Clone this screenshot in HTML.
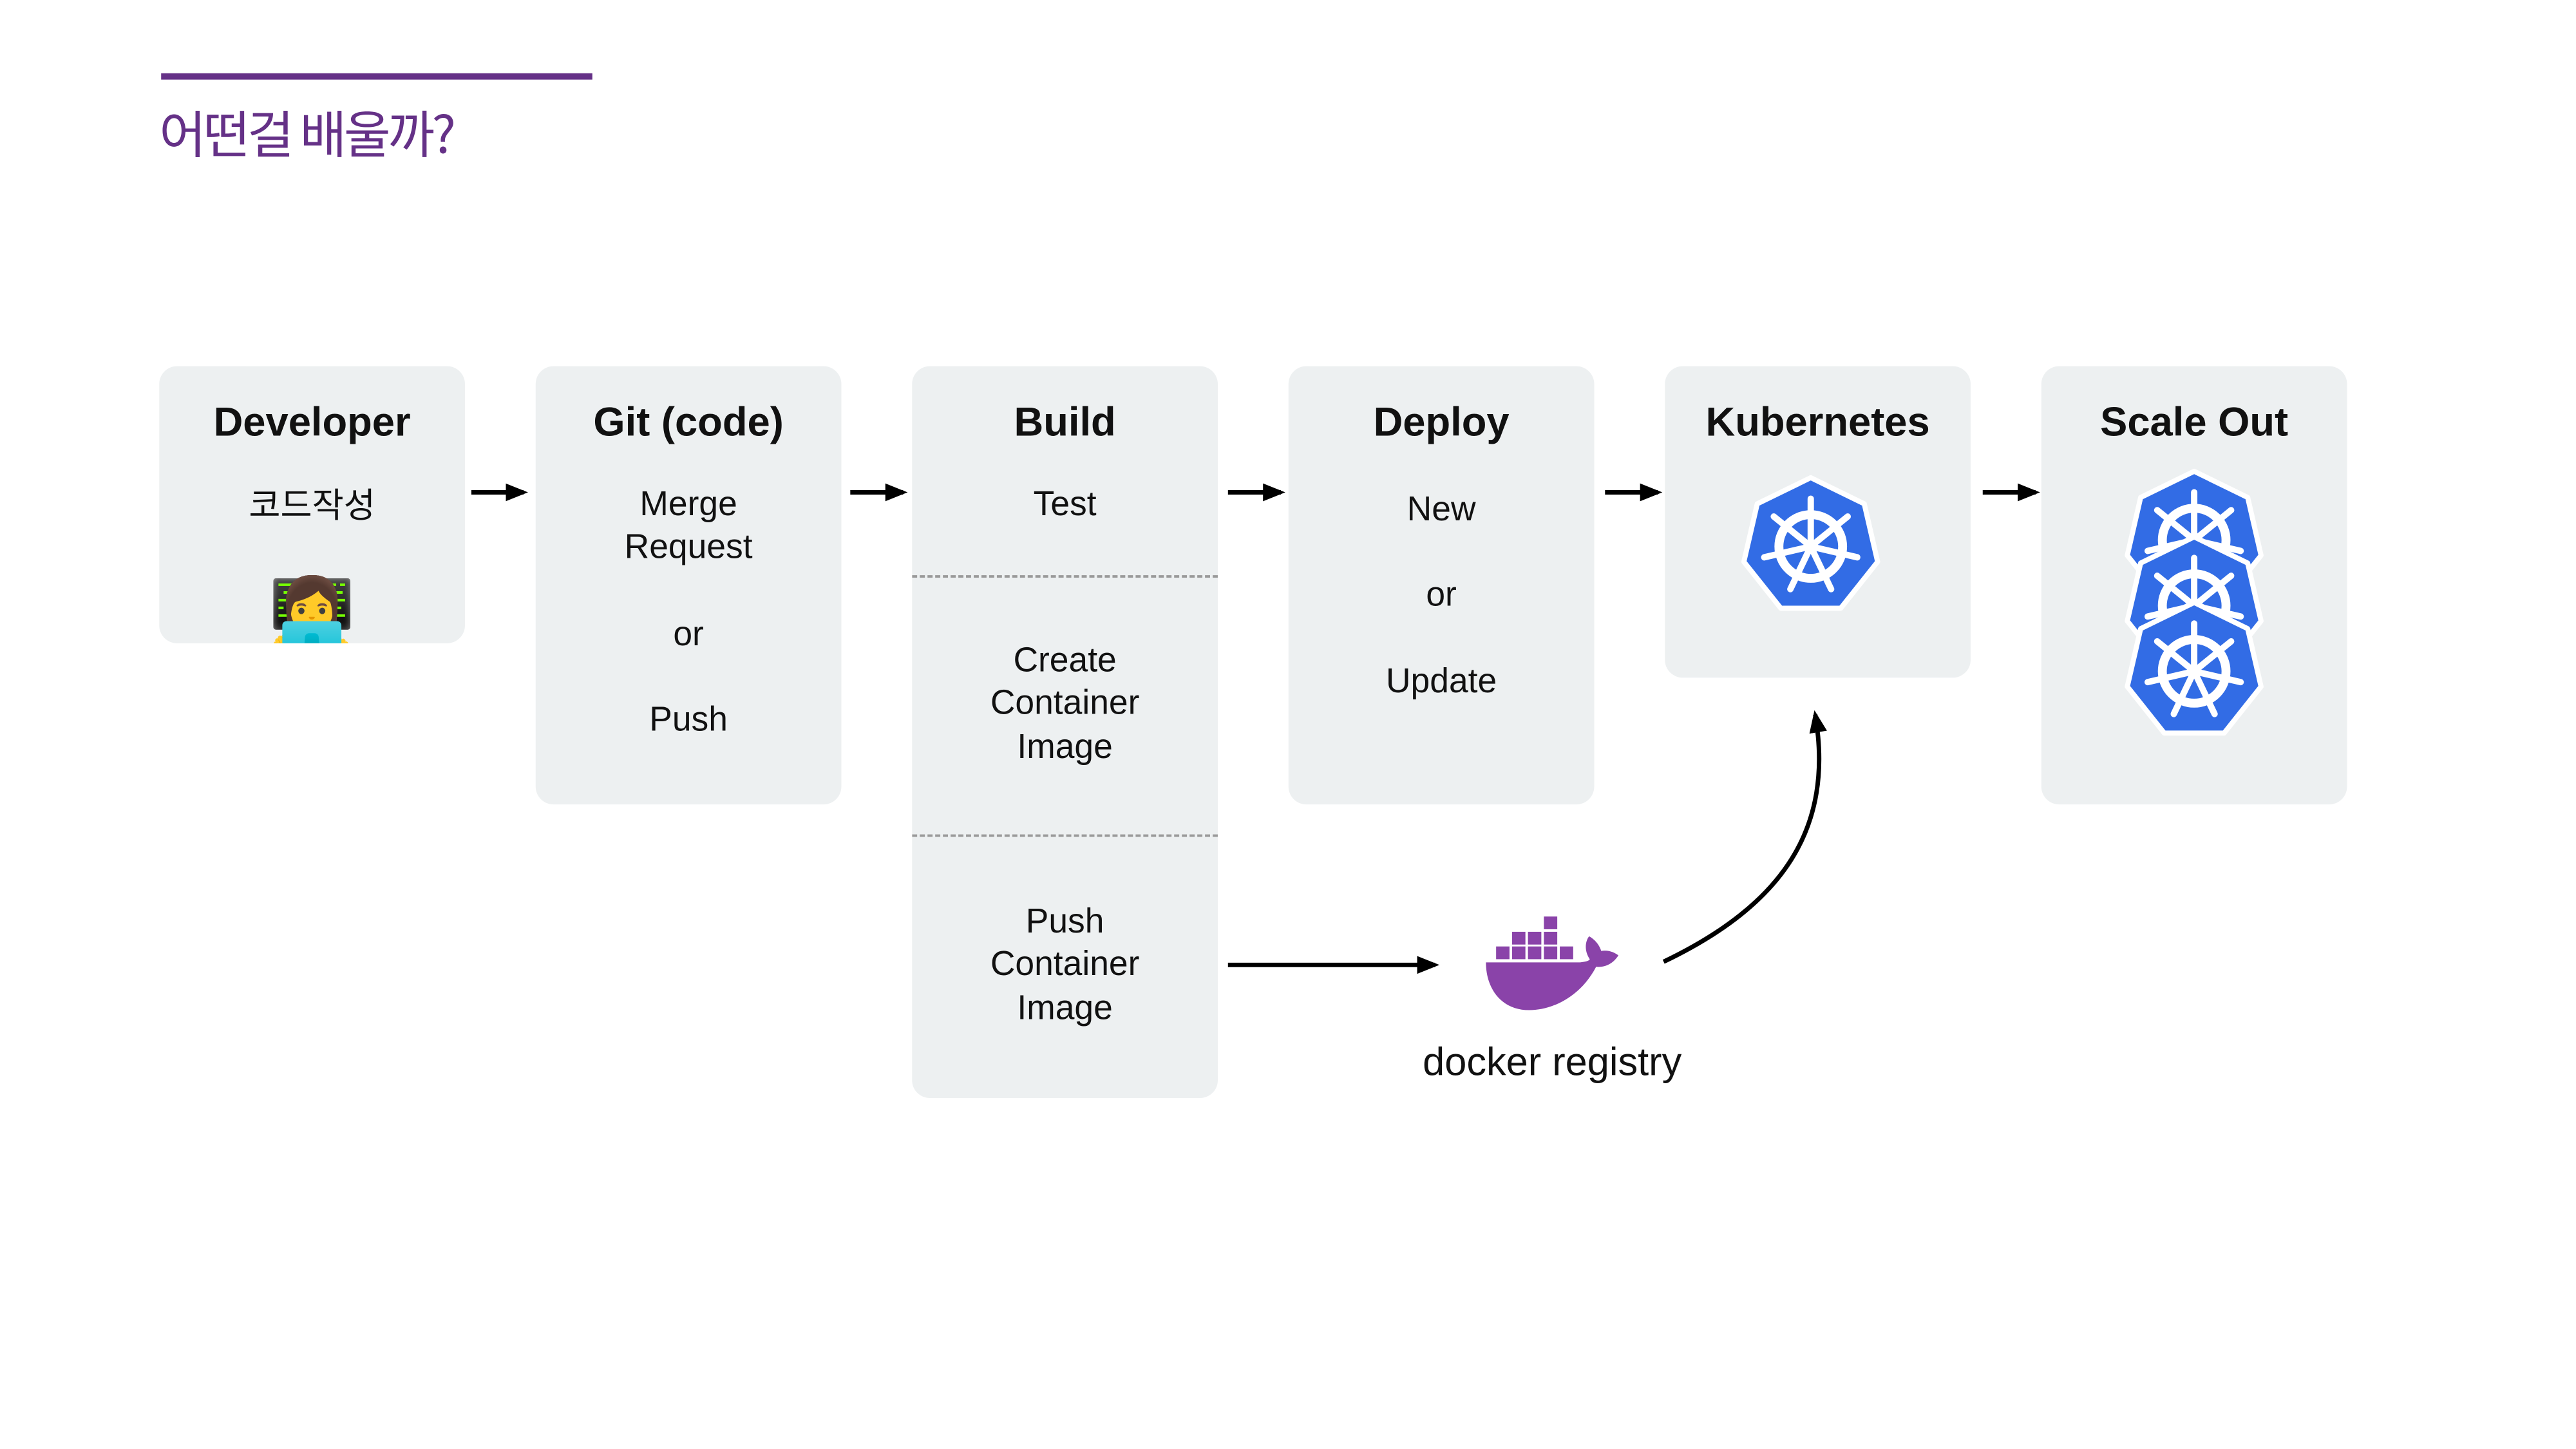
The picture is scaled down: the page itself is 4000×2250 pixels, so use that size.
<!DOCTYPE html>
<html><head><meta charset="utf-8"><style>
body{margin:0;width:4000px;height:2250px;background:#fff;position:relative;overflow:hidden;font-family:"Liberation Sans","Noto Sans CJK KR",sans-serif}
#w{position:absolute;left:0;top:0;width:4000px;height:2250px;transform:scale(0.989);transform-origin:0 0}
.bar{position:absolute;left:253px;top:115px;width:677px;height:10px;background:#653187}
.title{position:absolute;left:250px;top:154px;font-size:80px;color:#653187;font-family:"Noto Sans CJK KR",sans-serif;letter-spacing:-4.5px;line-height:104px}
.box{position:absolute;top:575px;width:480px;background:#edf0f1;border-radius:28px;overflow:hidden}
.t{position:absolute;left:0;width:100%;text-align:center;transform:translateY(-50%);color:#111;font-size:54px;line-height:68px}
.h{font-weight:bold;font-size:64px}
.dash{position:absolute;left:0;width:100%;border-top:4px dashed #999}
</style></head><body><div id="w">
<div class="bar"></div>
<div class="title">어떤걸 배울까?</div>

<div class="box" style="left:250px;height:435px">
<div class="t h" style="top:87px">Developer</div>
<div class="t" style="top:214px;font-family:'Noto Sans CJK KR',sans-serif">코드작성</div>
<div class="t" style="top:390px;font-size:110px;line-height:130px;font-family:'Noto Color Emoji',sans-serif">👩‍💻</div>
</div>
<div class="box" style="left:841px;height:688px">
<div class="t h" style="top:87px">Git (code)</div>
<div class="t" style="top:216px">Merge</div>
<div class="t" style="top:283px">Request</div>
<div class="t" style="top:420px">or</div>
<div class="t" style="top:554px">Push</div>
</div>
<div class="box" style="left:1432px;height:1149px">
<div class="t h" style="top:87px">Build</div>
<div class="t" style="top:216px">Test</div>
<div class="dash" style="top:328px"></div>
<div class="t" style="top:461px">Create</div>
<div class="t" style="top:528px">Container</div>
<div class="t" style="top:597px">Image</div>
<div class="dash" style="top:735px"></div>
<div class="t" style="top:871px">Push</div>
<div class="t" style="top:938px">Container</div>
<div class="t" style="top:1007px">Image</div>
</div>
<div class="box" style="left:2023px;height:688px">
<div class="t h" style="top:87px">Deploy</div>
<div class="t" style="top:224px">New</div>
<div class="t" style="top:358px">or</div>
<div class="t" style="top:494px">Update</div>
</div>
<div class="box" style="left:2614px;height:489px">
<div class="t h" style="top:87px">Kubernetes</div>
</div>
<div class="box" style="left:3205px;height:688px">
<div class="t h" style="top:87px">Scale Out</div>
</div>

<div style="position:absolute;left:2052px;top:1628px;width:770px;text-align:center;font-size:62px;line-height:80px;color:#111">docker registry</div>

<svg width="4000" height="2250" style="position:absolute;left:0;top:0">
<defs>
<marker id="a" markerWidth="5" markerHeight="4" refX="4" refY="2" orient="auto" markerUnits="strokeWidth"><path d="M0,0 L5,2 L0,4 z" fill="#000"/></marker>
<g id="k">
<polygon points="0,-108 84,-67 105,24 47,97 -47,97 -105,24 -84,-67" fill="#326ce5" stroke="#fff" stroke-width="8" stroke-linejoin="round"/>
<circle r="50" fill="none" stroke="#fff" stroke-width="14"/>
<circle r="10" fill="#fff"/>
<g stroke="#fff" stroke-width="10" stroke-linecap="round">
<line x1="0" y1="0" x2="0" y2="-75"/>
<line x1="0" y1="0" x2="58" y2="-47"/>
<line x1="0" y1="0" x2="73" y2="17"/>
<line x1="0" y1="0" x2="32" y2="67"/>
<line x1="0" y1="0" x2="-32" y2="67"/>
<line x1="0" y1="0" x2="-73" y2="17"/>
<line x1="0" y1="0" x2="-58" y2="-47"/>
</g>
</g>
</defs>
<g stroke="#000" stroke-width="7" fill="none">
<line x1="740" y1="773" x2="822" y2="773" marker-end="url(#a)"/>
<line x1="1335" y1="773" x2="1418" y2="773" marker-end="url(#a)"/>
<line x1="1928" y1="773" x2="2011" y2="773" marker-end="url(#a)"/>
<line x1="2520" y1="773" x2="2603" y2="773" marker-end="url(#a)"/>
<line x1="3113" y1="773" x2="3196" y2="773" marker-end="url(#a)"/>
<line x1="1928" y1="1515" x2="2253" y2="1515" marker-end="url(#a)"/>
<path d="M2612,1510 C2800,1420 2880,1300 2850,1122" marker-end="url(#a)"/>
</g>
<use href="#k" transform="translate(2843,858)"/>
<use href="#k" transform="translate(3445,848)"/>
<use href="#k" transform="translate(3445,951)"/>
<use href="#k" transform="translate(3445,1054)"/>
<g fill="#8a43a9" transform="translate(26,16)">
<rect x="2323" y="1470" width="21" height="20"/><rect x="2348" y="1470" width="21" height="20"/><rect x="2373" y="1470" width="21" height="20"/><rect x="2398" y="1470" width="21" height="20"/><rect x="2423" y="1470" width="21" height="20"/>
<rect x="2348" y="1447" width="21" height="20"/><rect x="2373" y="1447" width="21" height="20"/><rect x="2398" y="1447" width="21" height="20"/>
<rect x="2398" y="1423" width="21" height="20"/>
<path d="M2307,1495 L2455,1495 C2465,1494 2470,1492 2470,1490 C2460,1475 2464,1460 2469,1454 C2480,1460 2486,1470 2488,1477 C2500,1475 2510,1480 2515,1484 C2505,1500 2490,1503 2480,1502 C2455,1550 2410,1570 2375,1570 C2330,1570 2307,1535 2307,1495 Z"/>
</g>
</svg>
</div></body></html>
